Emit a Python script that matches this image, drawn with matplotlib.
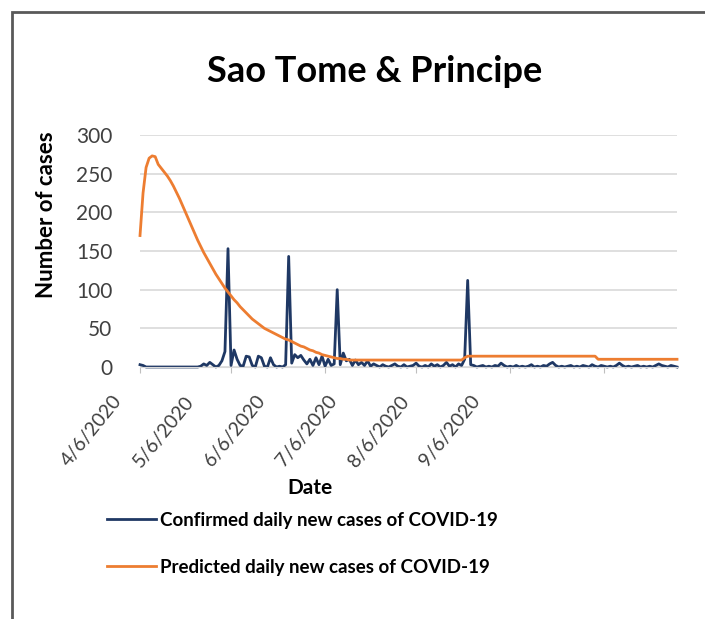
import matplotlib.pyplot as plt
import pandas as pd
from matplotlib.patches import Rectangle

# daily values, starting 4/6/2020
start_date = "2020-04-06"
confirmed = [
    3, 2, 0, 0, 0, 0, 0, 0, 0, 0, 0, 0, 0, 0, 0, 0, 0, 0, 0, 0,
    1, 4, 2, 6, 3, 0, 2, 8,
    20, 153, 2, 22, 10, 2, 1, 14, 13, 2, 0, 14, 12, 1, 0, 12, 3, 0, 1, 0, 3,
    143, 5, 16, 12, 15, 9, 4, 10, 2, 12, 3, 14, 1, 10, 2, 4,
    100, 3, 18, 8, 10, 2, 9, 3, 6, 2, 8, 1, 4,
    2, 0, 3, 1, 0, 2, 4, 1, 0, 3, 0, 1, 2, 5, 1, 0, 2, 0, 4, 1,
    3, 0, 2, 6, 1, 3, 0, 4, 2,
    10, 112, 3, 2,
    0, 1, 2, 0, 1, 0, 2, 1, 5, 2, 0, 1, 0, 2, 0, 1, 0, 1, 3, 0,
    1, 0, 2, 1, 4, 6, 2, 0, 1, 0, 1, 2, 0, 1, 0, 2, 1, 0, 3, 1,
    0, 2, 1, 0, 1, 0, 2, 5, 2, 0, 1, 0, 1, 2, 0, 1, 0, 1, 0, 2,
    4, 2, 1, 0, 2, 1, 0,
]
predicted = [
    170, 225, 258, 270, 273, 272, 262, 257, 252, 247,
    241, 234, 226, 218, 209, 200, 191, 182, 173, 164,
    156, 148, 141, 134, 127, 120, 114, 108, 102, 97,
    92, 87, 83, 78, 74, 70, 66, 62, 59, 56,
    53, 50, 48, 46, 44, 42, 40, 38, 36, 35,
    33, 31, 29, 27, 26, 24, 22, 21, 19, 18,
    16, 15, 14, 13, 12, 11, 11, 10, 10, 9,
    9, 9, 9, 9, 9, 9, 9, 9, 9, 9,
    9, 9, 9, 9, 9, 9, 9, 9, 9, 9,
    9, 9, 9, 9, 9, 9, 9, 9, 9, 9,
    9, 9, 9, 9, 9, 9, 9,
    12,
    14, 14, 14, 14, 14, 14, 14, 14, 14, 14,
    14, 14, 14, 14, 14, 14, 14, 14, 14, 14,
    14, 14, 14, 14, 14, 14, 14, 14, 14, 14,
    14, 14, 14, 14, 14, 14, 14, 14, 14, 14,
    14, 14, 14,
    10, 10, 10, 10, 10, 10, 10, 10, 10, 10,
    10, 10, 10, 10, 10, 10, 10, 10, 10, 10,
    10, 10, 10, 10, 10, 10, 10,
]
tick_dates = ["2020-04-06", "2020-05-06", "2020-06-06",
              "2020-07-06", "2020-08-06", "2020-09-06"]
tick_labels = ["4/6/2020", "5/6/2020", "6/6/2020",
               "7/6/2020", "8/6/2020", "9/6/2020"]

dates = pd.date_range(start_date, periods=len(confirmed), freq="D")

plt.rcParams['font.family'] = ['Lato', 'DejaVu Sans']

fig = plt.figure(figsize=(7.05, 6.19), dpi=100)
ax = fig.add_axes([0.1986, 0.4071, 0.7617, 0.3748])

l1, = ax.plot(dates, confirmed, color='#1F3864', lw=2, clip_on=False,
              label='Confirmed daily new cases of COVID-19')
l2, = ax.plot(dates, predicted, color='#ED7D31', lw=2, clip_on=False,
              label='Predicted daily new cases of COVID-19')

ax.set_xlim(dates[0], dates[-1])
ax.set_ylim(0, 300)
ax.set_yticks(range(0, 301, 50))
ax.yaxis.grid(True, color='#D9D9D9', lw=1.2)
ax.set_axisbelow(True)
for s in ['left', 'right', 'top']:
    ax.spines[s].set_visible(False)
ax.spines['bottom'].set_color('#D9D9D9')
ax.tick_params(axis='y', length=0, labelsize=15, labelcolor='#404040', pad=20)
ax.set_xticks(pd.to_datetime(tick_dates))
ax.set_xticklabels([''] * len(tick_dates))
ax.tick_params(axis='x', length=4, color='#BFBFBF')

# the date labels sit left of their tick marks in the original
for i, lab in enumerate(tick_labels):
    ax.text(-0.052 + i * 0.1335, -0.11, lab, transform=ax.transAxes,
            rotation=51, rotation_mode='anchor', ha='right', va='top',
            fontsize=14, color='#404040')

fig.text(375 / 705, 1 - 72 / 619, 'Sao Tome & Principe', fontsize=26,
         fontweight='bold', ha='center', va='center')
fig.text(47 / 705, 1 - 215 / 619, 'Number of cases', fontsize=16,
         fontweight='bold', rotation=90, ha='center', va='center')
fig.text(310 / 705, 1 - 488 / 619, 'Date', fontsize=15,
         fontweight='bold', ha='center', va='center')

leg = ax.legend(handles=[l1, l2], loc='upper left',
                bbox_to_anchor=(107 / 705, 1 - 512 / 619),
                bbox_transform=fig.transFigure, frameon=False,
                borderpad=0, borderaxespad=0, handlelength=2.6,
                handletextpad=0.25, labelspacing=1.6,
                prop={'size': 13.5, 'weight': 'bold'})

fig.patches.append(Rectangle((12 / 705, -0.1), 1.5, 1 - 12 / 619 + 0.1,
                             transform=fig.transFigure, fill=False,
                             edgecolor='#595959', lw=2))

fig.savefig('out.png', dpi=100)
